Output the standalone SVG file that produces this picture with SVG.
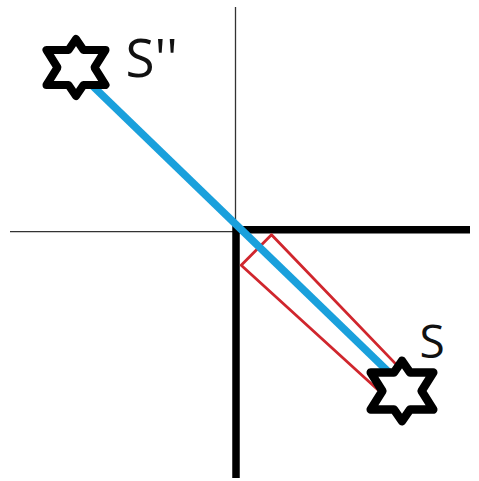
<svg xmlns="http://www.w3.org/2000/svg" xmlns:xlink="http://www.w3.org/1999/xlink" width="479" height="481" viewBox="0 0 479 481">
<style>
.axis{stroke:#333;stroke-width:1.3;fill:none}
.wall{stroke:#000;stroke-width:7.5;fill:none;stroke-linejoin:miter}
.ray{stroke:#1aa0dc;stroke-width:7.5;fill:none}
.box{stroke:#d0262d;stroke-width:2.8;fill:none;stroke-linejoin:round}
.star{fill:#fff;stroke:#000;stroke-width:8;stroke-linejoin:round}
.lbl{font-family:"Open Sans","Liberation Sans",sans-serif;fill:#111}
</style>
<defs>
<path id="star" d="M0,-28.5 L7.5,-17.5 L29.5,-17.5 L18.5,0 L29.5,17.5 L7.5,17.5 L0,28.5 L-7.5,17.5 L-29.5,17.5 L-18.5,0 L-29.5,-17.5 L-7.5,-17.5 Z"/>
</defs>
<rect width="479" height="481" fill="#fff"/>
<g id="connectors">
<path class="axis" d="M10,231.7 H235.5"/>
<path class="axis" d="M235.5,7 V231.7"/>
<path class="wall" d="M236,478 V229.7 H470"/>
<polygon class="box" points="241.2,265.3 271.5,234.8 400,368.4 385,396.2"/>
<path class="ray" d="M86,79.5 L394,377.2"/>
</g>
<g id="source-image">
<use xlink:href="#star" class="star" transform="translate(76,67.5)"/>
<text class="lbl" x="125.5" y="77" font-size="53">S''</text>
</g>
<g id="source">
<use xlink:href="#star" class="star" transform="translate(402,391) scale(1.06)"/>
<text class="lbl" x="419.4" y="358" font-size="46">S</text>
</g>
</svg>
